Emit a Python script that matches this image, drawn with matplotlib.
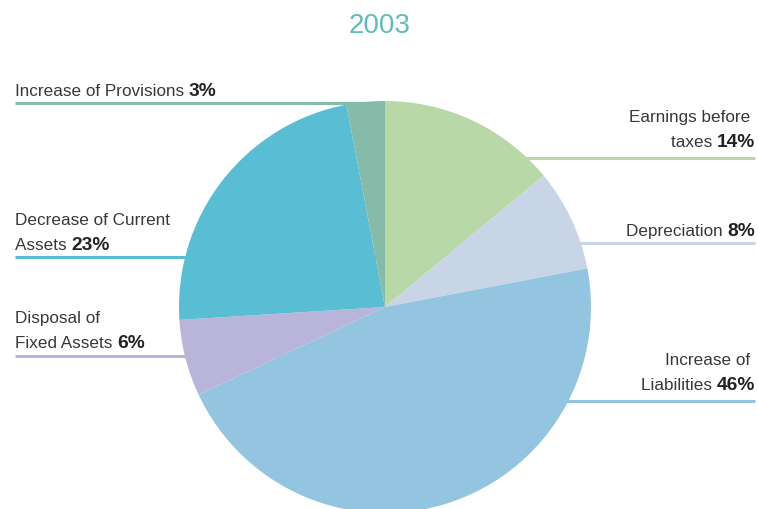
import matplotlib
matplotlib.use("Agg")
import matplotlib.pyplot as plt

labels = ["Earnings before\ntaxes", "Depreciation", "Increase of\nLiabilities",
          "Disposal of\nFixed Assets", "Decrease of Current\nAssets", "Increase of Provisions"]
shares = [14, 8, 46, 6, 23, 3]
colors = ["#b9d8a7", "#c7d5e6", "#94c5e0", "#b9b5da", "#59bed3", "#85bba8"]
title = "2003"

W, H = 758, 509
CX, CY, R = 385, 307, 206  # pie centre and radius in pixels

fig = plt.figure(figsize=(W / 100, H / 100), dpi=100)
ax = fig.add_axes([0, 0, 1, 1])

ax.pie(shares, colors=colors, startangle=90, counterclock=False, radius=1,
       center=(0, 0), wedgeprops=dict(linewidth=0, zorder=3), frame=True)
ax.set_xlim(-CX / R, (W - CX) / R)
ax.set_ylim((CY - H) / R, CY / R)
ax.set_aspect("equal")
ax.axis("off")


def px(x, y):
    return (x - CX) / R, (CY - y) / R


fig.text(380 / W, 1 - 33 / H, title, color="#5fbcbc", fontsize=20,
         ha="center", va="baseline", family="Liberation Sans")

# label layout: side, baseline of last text line, leader line y
layout = [("right", 147, 158), ("right", 236, 243), ("right", 390, 401),
          ("left", 348, 356), ("left", 250, 257), ("left", 96, 103)]

fig.canvas.draw()
renderer = fig.canvas.get_renderer()
fs = 12.3
pfs = 13.8
txt = "#383838"
ptxt = "#222222"
lh = 25
font = "Liberation Sans"

for lab, pct, col, (side, base, ly) in zip(labels, shares, colors, layout):
    lines = lab.split("\n")
    last = lines[-1]
    first = lines[:-1]
    if side == "left":
        x0 = 15
        for i, ln in enumerate(first):
            fig.text(x0 / W, 1 - (base - lh * (len(first) - i)) / H, ln, fontsize=fs,
                     color=txt, ha="left", va="baseline", family=font)
        t = fig.text(x0 / W, 1 - base / H, last + " ", fontsize=fs, color=txt,
                     ha="left", va="baseline", family=font)
        bb = t.get_window_extent(renderer)
        fig.text(bb.x1 / W, 1 - base / H, f"{pct}%", fontsize=pfs, color=ptxt,
                 weight="bold", ha="left", va="baseline", family=font)
        ax.plot([px(15, ly)[0], 0], [px(15, ly)[1]] * 2, color=col, lw=2.2,
                solid_capstyle="butt", zorder=1)
    else:
        x1 = 755
        p = fig.text(x1 / W, 1 - base / H, f"{pct}%", fontsize=pfs, color=ptxt,
                     weight="bold", ha="right", va="baseline", family=font)
        bb = p.get_window_extent(renderer)
        fig.text(bb.x0 / W, 1 - base / H, last + " ", fontsize=fs, color=txt,
                 ha="right", va="baseline", family=font)
        for i, ln in enumerate(first):
            fig.text((x1 - 5) / W, 1 - (base - lh * (len(first) - i)) / H, ln, fontsize=fs,
                     color=txt, ha="right", va="baseline", family=font)
        ax.plot([0, px(755, ly)[0]], [px(755, ly)[1]] * 2, color=col, lw=2.2,
                solid_capstyle="butt", zorder=1)

fig.savefig("out.png", dpi=100)
